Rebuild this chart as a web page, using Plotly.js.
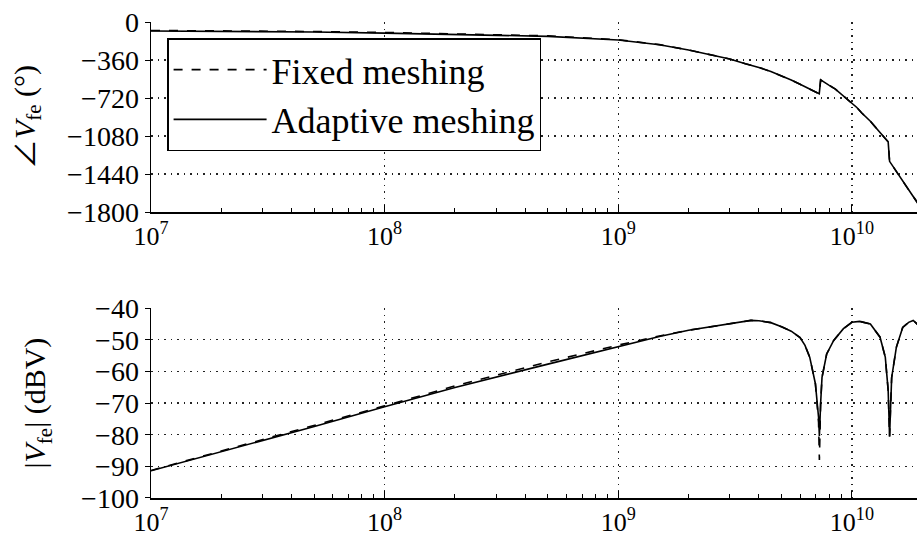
<!DOCTYPE html>
<html><head><meta charset="utf-8">
<script src="https://cdn.plot.ly/plotly-3.0.1.min.js"></script>
<style>html,body{margin:0;padding:0;background:#fff}#chart{width:917px;height:538px}</style>
</head><body><div id="chart"></div>
<script>
// Phase plot data (Hz, degrees)
const freqPhase = [1e7, 2e7, 5e7, 1e8, 2e8, 5e8, 1e9, 1.5e9, 2e9, 2.5e9, 3e9, 3.5e9, 4e9, 4.5e9, 5e9, 5.5e9, 6e9, 6.4e9, 6.8e9, 7.1e9, 7.25e9, 7.35e9, 7.7e9, 8e9, 8.5e9, 9e9, 9.5e9, 1e10, 1.05e10, 1.1e10, 1.2e10, 1.3e10, 1.36e10, 1.41e10, 1.43e10, 1.45e10, 1.5e10, 1.6e10, 1.7e10, 1.8e10, 1.9e10, 2e10];
const phaseAdaptive = [-85, -88, -95, -105, -116, -136, -170, -215, -265, -310, -350, -395, -430, -470, -510, -550, -590, -620, -655, -675, -680, -548, -580, -600, -635, -680, -725, -765, -810, -860, -940, -1030, -1077, -1115, -1135, -1320, -1370, -1462, -1550, -1630, -1705, -1790];
const phaseFixed = [-80, -83, -90, -99, -110, -131, -168, -214, -265, -310, -350, -395, -430, -470, -510, -550, -590, -620, -655, -675, -680, -548, -580, -600, -635, -680, -725, -765, -810, -860, -940, -1030, -1077, -1115, -1135, -1320, -1370, -1462, -1550, -1630, -1705, -1790];

// Magnitude plot data (Hz, dBV)
const freqMag = [1e7, 2e7, 5e7, 1e8, 2e8, 5e8, 1e9, 1.5e9, 2e9, 2.5e9, 3e9, 3.5e9, 3.7e9, 4e9, 4.5e9, 5e9, 5.5e9, 6e9, 6.3e9, 6.6e9, 6.98e9, 7.2e9, 7.26e9, 7.35e9, 7.45e9, 7.8e9, 8.36e9, 9.2e9, 1e10, 1.08e10, 1.2e10, 1.32e10, 1.39e10, 1.43e10, 1.45e10, 1.48e10, 1.55e10, 1.65e10, 1.75e10, 1.83e10, 1.9e10, 2e10];
const magAdaptive = [-91.4, -85.4, -77.4, -71.2, -65.1, -57.7, -52.2, -49.0, -47.0, -45.8, -44.8, -44.1, -43.9, -44.0, -44.6, -45.9, -47.3, -49.3, -51.8, -55.5, -63.9, -74.5, -80.4, -70.0, -61.9, -54.5, -50.2, -46.5, -44.5, -44.2, -45.0, -49.2, -55.5, -66.0, -80.6, -62.0, -52.4, -46.1, -44.5, -43.9, -45.0, -47.0];
const magFixed = [-91.3, -85.2, -77.1, -70.9, -64.6, -57.0, -51.7, -48.8, -47.0, -45.8, -44.8, -44.1, -43.9, -44.0, -44.6, -45.9, -47.3, -49.3, -51.8, -55.5, -63.9, -76.0, -88.0, -70.0, -61.9, -54.5, -50.2, -46.5, -44.5, -44.2, -45.0, -49.2, -55.5, -66.0, -80.6, -62.0, -52.4, -46.1, -44.5, -43.9, -45.0, -47.0];

const decadeTicks = [1e7, 1e8, 1e9, 1e10];
const decadeText = ['10<sup>7</sup>', '10<sup>8</sup>', '10<sup>9</sup>', '10<sup>10</sup>'];
const phaseTicks = [0, -360, -720, -1080, -1440, -1800];
const phaseText = ['0', '−360', '−720', '−1080', '−1440', '−1800'];
const magTicks = [-40, -50, -60, -70, -80, -90, -100];
const magText = ['−40', '−50', '−60', '−70', '−80', '−90', '−100'];

const minorTicks = [];
for (let e = 7; e <= 10; e++) for (let m = 2; m <= 9; m++) minorTicks.push(m * Math.pow(10, e));

const FONT = 'Liberation Serif, serif';
const lineCol = '#000';
const GRIDDASH = '1.5px,5px';

const xCommon = {
  type: 'log', range: [7, Math.log10(1.9e10)],
  tickmode: 'array', tickvals: decadeTicks, ticktext: decadeText,
  ticks: 'inside', ticklen: 7, tickwidth: 1, tickcolor: lineCol,
  showline: true, linecolor: lineCol, linewidth: 1.5,
  showgrid: true, gridcolor: '#222', griddash: GRIDDASH, gridwidth: 1.3,
  zeroline: false,
  tickfont: {family: FONT, size: 26, color: '#000'},
  minor: {tickmode: 'array', tickvals: minorTicks, ticks: 'inside', ticklen: 4, tickcolor: lineCol, showgrid: false},
};
const yCommon = {
  ticks: 'outside', ticklen: 5, tickcolor: lineCol,
  showline: true, linecolor: lineCol, linewidth: 1.5,
  showgrid: true, gridcolor: '#222', griddash: GRIDDASH, gridwidth: 1.3,
  zeroline: false,
  tickfont: {family: FONT, size: 28, color: '#000'},
};

const traces = [
  {x: freqPhase, y: phaseFixed, xaxis: 'x', yaxis: 'y', mode: 'lines', name: 'Fixed meshing',
   line: {color: '#000', width: 1.6, dash: 'dash'}},
  {x: freqPhase, y: phaseAdaptive, xaxis: 'x', yaxis: 'y', mode: 'lines', name: 'Adaptive meshing',
   line: {color: '#000', width: 1.6}},
  {x: freqMag, y: magFixed, xaxis: 'x2', yaxis: 'y2', mode: 'lines', name: 'Fixed meshing', showlegend: false,
   line: {color: '#000', width: 1.6, dash: 'dash'}},
  {x: freqMag, y: magAdaptive, xaxis: 'x2', yaxis: 'y2', mode: 'lines', name: 'Adaptive meshing', showlegend: false,
   line: {color: '#000', width: 1.6}},
];

const layout = {
  width: 917, height: 538,
  margin: {l: 151, r: 0, t: 22, b: 40},
  paper_bgcolor: '#fff', plot_bgcolor: '#fff',
  showlegend: true,
  font: {family: FONT, color: '#000'},
  xaxis: Object.assign({}, xCommon, {domain: [0, 1], anchor: 'y'}),
  yaxis: Object.assign({}, yCommon, {domain: [0.6008, 1], anchor: 'x', range: [-1800, 0],
    tickmode: 'array', tickvals: phaseTicks, ticktext: phaseText,
    title: {text: '<span style="font-family:Noto Sans CJK JP">∠</span><i>V</i><sub>fe</sub> (°)', font: {family: FONT, size: 30, color: '#000'}, standoff: 30}}),
  xaxis2: Object.assign({}, xCommon, {domain: [0, 1], anchor: 'y2'}),
  yaxis2: Object.assign({}, yCommon, {domain: [0, 0.399], anchor: 'x2', range: [-100, -40],
    tickmode: 'array', tickvals: magTicks, ticktext: magText,
    title: {text: '|<i>V</i><sub>fe</sub>| (dBV)', font: {family: FONT, size: 30, color: '#000'}, standoff: 26}}),
  legend: {x: 0.021, y: 0.966, xanchor: 'left', yanchor: 'top',
    bgcolor: '#fff', bordercolor: '#000', borderwidth: 1.5,
    font: {family: FONT, size: 36, color: '#000'}, itemwidth: 93},
};

Plotly.newPlot('chart', traces, layout, {displayModeBar: false, staticPlot: true});
</script></body></html>
